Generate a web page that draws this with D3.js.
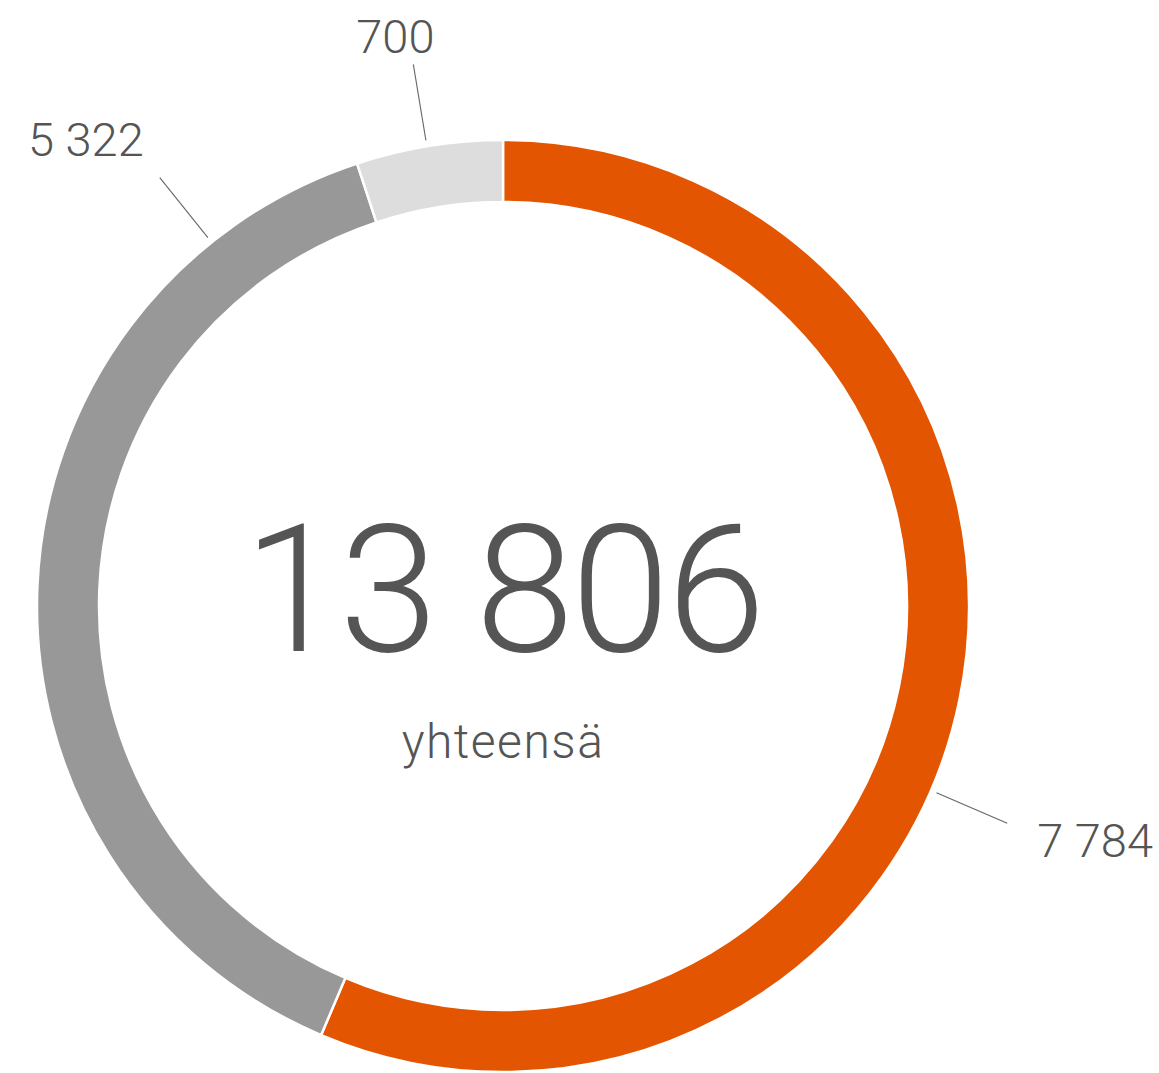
<!DOCTYPE html>
<html>
<head>
<meta charset="utf-8">
<script src="https://cdn.jsdelivr.net/npm/d3@7/dist/d3.min.js"></script>
<style>
  html, body { margin: 0; padding: 0; background: #fff; }
  svg { display: block; }
  text { font-family: Roboto, "Open Sans", sans-serif; fill: #555; }
</style>
</head>
<body>
<svg id="chart" width="1159" height="1073"></svg>
<script>
// Segments, in drawing order clockwise from 12 o'clock
const categories = ["A", "B", "C"];
const values = [7784, 5322, 700];
const valueLabels = ["7 784", "5 322", "700"];
const totalLabel = "13 806";
const subtitle = "yhteensä";

// Presentation
const colors = ["#e35500", "#989898", "#dddddd"];
const cx = 503, cy = 606;
const outerR = 466, innerR = 404;
// Direction of each leader line (degrees clockwise from top) and text placement
const leaderAngles = [113.3, 321.3, 350.6];
const leaderFrom = 472, leaderTo = 549;
const labelPlace = [
  { anchor: "start", dx: 30, dy: 34 },
  { anchor: "end", dx: -16, dy: -22 },
  { anchor: "middle", dx: -18, dy: -11 }
];

const svg = d3.select("#chart");
const g = svg.append("g").attr("transform", `translate(${cx},${cy})`);

const pie = d3.pie().sort(null).value(d => d.value);
const arcs = pie(categories.map((c, i) => ({ cat: c, value: values[i] })));
const arc = d3.arc().innerRadius(innerR).outerRadius(outerR);

g.selectAll("path.slice")
  .data(arcs)
  .join("path")
  .attr("class", "slice")
  .attr("d", arc)
  .attr("fill", (d, i) => colors[i])
  .attr("stroke", "#fff")
  .attr("stroke-width", 2.5)
  .attr("stroke-linejoin", "miter");

// Leader lines and value labels
const rad = a => a * Math.PI / 180;
const pt = (a, r) => [Math.sin(rad(a)) * r, -Math.cos(rad(a)) * r];

arcs.forEach((d, i) => {
  const a = leaderAngles[i];
  const p0 = pt(a, leaderFrom), p1 = pt(a, leaderTo);
  g.append("line")
    .attr("x1", p0[0]).attr("y1", p0[1])
    .attr("x2", p1[0]).attr("y2", p1[1])
    .attr("stroke", "#666")
    .attr("stroke-width", 1.1);
  const lp = labelPlace[i];
  g.append("text")
    .attr("x", p1[0] + lp.dx)
    .attr("y", p1[1] + lp.dy)
    .attr("text-anchor", lp.anchor)
    .attr("font-size", 47)
    .attr("font-weight", 300)
    .text(valueLabels[i]);
});

// Centre total
g.append("text")
  .attr("x", 0).attr("y", 45)
  .attr("text-anchor", "middle")
  .attr("font-size", 178)
  .attr("font-weight", 300)
  .attr("letter-spacing", -3)
  .text(totalLabel);

g.append("text")
  .attr("x", 0).attr("y", 152)
  .attr("text-anchor", "middle")
  .attr("font-size", 48)
  .attr("font-weight", 300)
  .attr("letter-spacing", 1.5)
  .text(subtitle);
</script>
</body>
</html>
